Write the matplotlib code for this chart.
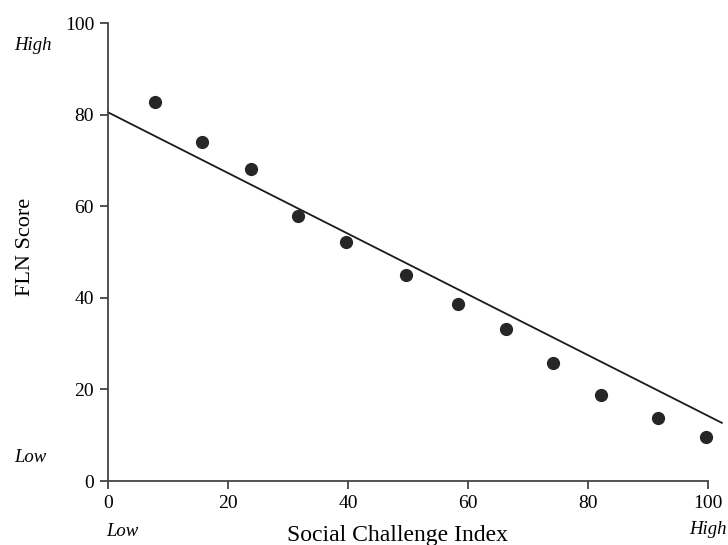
import numpy as np
import matplotlib.pyplot as plt

plt.rcParams['font.family'] = ['Liberation Serif', 'DejaVu Serif']

# data
sci = [7.8, 15.7, 23.8, 31.7, 39.7, 49.7, 58.3, 66.3, 74.2, 82.2, 91.7, 99.7]
fln = [82.7, 74.0, 68.1, 57.9, 52.2, 45.0, 38.6, 33.2, 25.8, 18.8, 13.8, 9.6]
fit_x = [0, 102.3]
fit_y = [80.5, 12.7]
ticks = [0, 20, 40, 60, 80, 100]

W, H = 728, 545
fig = plt.figure(figsize=(W / 100, H / 100), dpi=100)
ax = fig.add_axes([108 / W, 1 - 481 / H, 600 / W, 458 / H])

ax.plot(fit_x, fit_y, color='#1a1a1a', lw=1.3, clip_on=False)
ax.plot(sci, fln, 'o', color='#262626', ms=8.5, clip_on=False)

ax.set_xlim(0, 100)
ax.set_ylim(0, 100)
ax.set_xticks(ticks)
ax.set_yticks(ticks)
ax.tick_params(direction='out', length=6, width=1.2, labelsize=14, pad=4, color='#333333')
for s in ['top', 'right']:
    ax.spines[s].set_visible(False)
for s in ['left', 'bottom']:
    ax.spines[s].set_linewidth(1.3)
    ax.spines[s].set_color('#444444')

def fx(px):
    return px / W

def fy(py):
    return 1 - py / H

fig.text(fx(25), fy(247), 'FLN Score', rotation=90, ha='center', va='center', fontsize=16)
fig.text(fx(398), fy(535), 'Social Challenge Index', ha='center', va='center', fontsize=17)
fig.text(fx(33), fy(46), 'High', style='italic', ha='center', va='center', fontsize=13.5)
fig.text(fx(30), fy(457), 'Low', style='italic', ha='center', va='center', fontsize=13.5)
fig.text(fx(122), fy(531), 'Low', style='italic', ha='center', va='center', fontsize=13.5)
fig.text(fx(708), fy(530), 'High', style='italic', ha='center', va='center', fontsize=13.5)

fig.savefig('out.png', dpi=100)
